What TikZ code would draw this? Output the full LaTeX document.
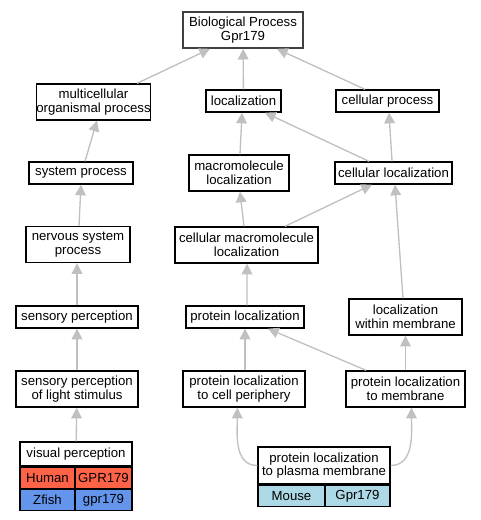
\documentclass[tikz,border=0pt]{standalone}
\usepackage{fontspec}
\setmainfont{Liberation Sans}
\usetikzlibrary{arrows.meta}
\definecolor{edgegray}{HTML}{C0C0C0}
\definecolor{humanred}{HTML}{FF6347}
\definecolor{fishblue}{HTML}{6495ED}
\definecolor{mouseblue}{HTML}{ADD8E6}
\tikzset{
  term/.style={draw, fill=white, line width=1pt, align=center, inner sep=0pt,
    font=\fontsize{9.9}{10.2}\selectfont},
  cell/.style={term, minimum height=15.75pt},
  isa/.style={draw=edgegray, line width=1pt, -{Triangle[length=8pt,width=8pt]}},
}
\begin{document}
\begin{tikzpicture}[x=0.75pt, y=-0.75pt]
    \useasboundingbox (0,0) rectangle (480,520);
    \node[term, draw=black!75, line width=1.25pt, minimum width=90pt, minimum height=27pt] (bp) at (243,30) {Biological Process\\Gpr179};
    \node[term, minimum width=84.75pt, minimum height=27pt] (multi) at (93.5,102) {multicellular\\organismal process};
    \node[term, minimum width=56.25pt, minimum height=16.5pt] (loc) at (243.5,101) {localization};
    \node[term, minimum width=77.25pt, minimum height=16.5pt] (cproc) at (387.5,101) {cellular process};
    \node[term, minimum width=78pt, minimum height=16.5pt] (sys) at (81,173) {system process};
    \node[term, minimum width=75pt, minimum height=27pt] (mloc) at (239,173) {macromolecule\\localization};
    \node[term, minimum width=87.75pt, minimum height=16.5pt] (cloc) at (393.5,173) {cellular localization};
    \node[term, minimum width=78pt, minimum height=27pt] (nerv) at (78,244.5) {nervous system\\process};
    \node[term, minimum width=107.25pt, minimum height=27pt] (cmloc) at (246.5,245) {cellular macromolecule\\localization};
    \node[term, minimum width=91.5pt, minimum height=16.5pt] (sens) at (77,317) {sensory perception};
    \node[term, minimum width=88.5pt, minimum height=16.5pt] (ploc) at (245,317) {protein localization};
    \node[term, minimum width=84.75pt, minimum height=27pt] (locmem) at (405.5,317) {localization\\within membrane};
    \node[term, minimum width=91.5pt, minimum height=27pt] (light) at (77,389) {sensory perception\\of light stimulus};
    \node[term, minimum width=91.5pt, minimum height=27pt] (periph) at (244,389) {protein localization\\to cell periphery};
    \node[term, minimum width=89.25pt, minimum height=27pt] (pmem) at (405.5,389) {protein localization\\to membrane};
    \node[term, minimum width=84pt, minimum height=18pt] (vis) at (76,454) {visual perception};
    \node[cell, fill=humanred, minimum width=41.25pt, anchor=north west] (human) at (vis.south west) {Human};
    \node[cell, fill=humanred, minimum width=42.75pt, anchor=north east] (hgene) at (vis.south east) {GPR179};
    \node[cell, fill=fishblue, minimum width=41.25pt, anchor=north west] (zfish) at (human.south west) {Zfish};
    \node[cell, fill=fishblue, minimum width=42.75pt, anchor=north east] (zgene) at (hgene.south east) {gpr179};
    \node[term, minimum width=99pt, minimum height=27.75pt] (plasma) at (324,465.5) {protein localization\\to plasma membrane};
    \node[cell, fill=mouseblue, minimum width=50.25pt, anchor=north west] (mouse) at (plasma.south west) {Mouse};
    \node[cell, fill=mouseblue, minimum width=48.75pt, anchor=north east] (mgene) at (plasma.south east) {Gpr179};
    \draw[isa] ([xshift=32.6pt]multi.north) -- ([xshift=-24.75pt]bp.south);
    \draw[isa] (loc) -- (bp);
    \draw[isa] ([xshift=-16.9pt]cproc.north) -- ([xshift=25.5pt]bp.south);
    \draw[isa] ([xshift=3pt]sys.north) -- ([xshift=2.6pt]multi.south);
    \draw[isa] ([xshift=0.75pt]mloc.north) -- ([xshift=-1.1pt]loc.south);
    \draw[isa] ([xshift=-18.4pt]cloc.north) -- ([xshift=16.1pt]loc.south);
    \draw[isa] ([xshift=-1.1pt]cloc.north) -- ([xshift=1.1pt]cproc.south);
    \draw[isa] ([xshift=0.75pt]nerv.north) -- (sys.south);
    \draw[isa] ([xshift=-1.9pt]cmloc.north) -- ([xshift=0.75pt]mloc.south);
    \draw[isa] ([xshift=28.9pt]cmloc.north) -- ([xshift=-16.1pt]cloc.south);
    \draw[isa] ([xshift=-1.9pt]locmem.north) -- ([xshift=1.1pt]cloc.south);
    \draw[isa] (sens.north) -- ([xshift=-0.75pt]nerv.south);
    \draw[isa] ([xshift=1.5pt]ploc.north) -- ([xshift=0.4pt]cmloc.south);
    \draw[isa] (light) -- (sens);
    \draw[isa] ([xshift=0.75pt]periph.north) -- (ploc.south);
    \draw[isa] ([xshift=-29.6pt]pmem.north) -- ([xshift=17.25pt]ploc.south);
    \draw[isa] (pmem) -- (locmem);
    \draw[isa] (vis) -- (light);
    \draw[isa] (plasma.west) to[out=180, in=-90] ([xshift=-5pt]periph.south);
    \draw[isa] (plasma.east) to[out=0, in=-90] ([xshift=4.5pt]pmem.south);
\end{tikzpicture}
\end{document}
